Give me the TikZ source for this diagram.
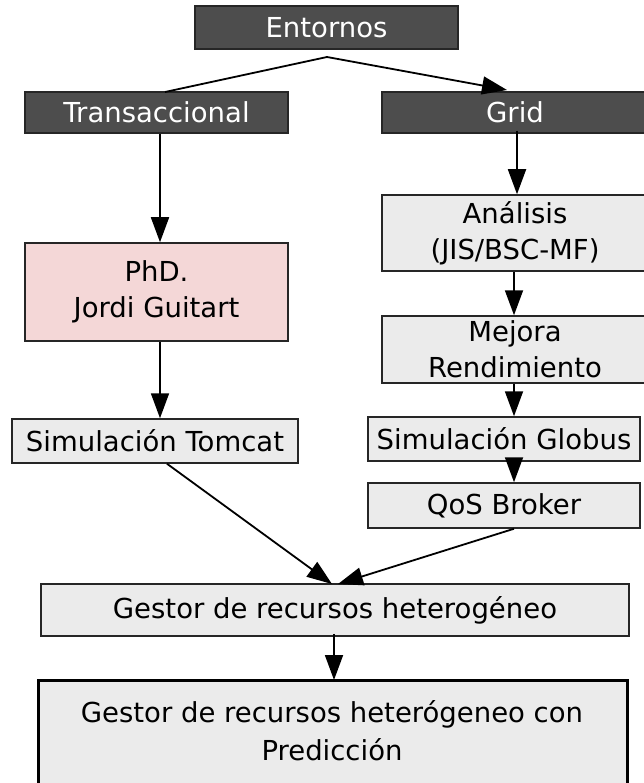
\documentclass[tikz,border=0pt]{standalone}
\usepackage{fontspec}
\setmainfont{DejaVu Sans}
\usetikzlibrary{arrows.meta}
\definecolor{darkbox}{HTML}{4D4D4D}
\definecolor{lightbox}{HTML}{EBEBEB}
\definecolor{pinkbox}{HTML}{F4D7D7}
\begin{document}
\begin{tikzpicture}[x=1pt,y=-1pt,
  base/.style={draw=black!85,line width=1.5pt,inner sep=0pt,align=center,font=\fontsize{27.5}{36}\selectfont},
  darkb/.style={base,fill=darkbox,text=white},
  lightb/.style={base,fill=lightbox},
  pinkb/.style={base,fill=pinkbox},
  conn/.style={line width=1.8pt},
  arr/.style={conn,-{Triangle[length=25pt,width=18pt]}}]
\useasboundingbox (0,0) rectangle (644,783);
\node[darkb,minimum width=263pt,minimum height=43pt] (ent) at (326.5,27.5) {Entornos};
\node[darkb,minimum width=263pt,minimum height=41pt] (tra) at (156.5,112.5) {Transaccional};
\node[darkb,minimum width=266pt,minimum height=41pt] (grid) at (515,112.5) {Grid};
\node[lightb,minimum width=266pt,minimum height=76pt] (ana) at (515,233) {Análisis\\(JIS/BSC-MF)};
\node[pinkb,minimum width=263pt,minimum height=98pt] (phd) at (156.5,292) {PhD.\\Jordi Guitart};
\node[lightb,minimum width=266pt,minimum height=67pt] (mej) at (515,349.5) {Mejora\\Rendimiento};
\node[lightb,minimum width=286pt,minimum height=44pt] (tom) at (155,441) {Simulación Tomcat};
\node[lightb,minimum width=272pt,minimum height=44pt] (glo) at (504,439) {Simulación Globus};
\node[lightb,minimum width=272pt,minimum height=45pt] (qos) at (504,505.5) {QoS Broker};
\node[lightb,minimum width=588pt,minimum height=52pt] (ges) at (335,610) {Gestor de recursos heterogéneo};
\draw[fill=lightbox,line width=3pt] (38,680) rectangle (627,810);
\node[font=\fontsize{27.5}{38}\selectfont,align=center] (pred) at (332,731) {Gestor de recursos heterógeneo con\\Predicción};
\coordinate (peak) at (327,57);
\draw[conn] (peak) -- (165,92);
\draw[arr] (peak) -- (507,90);
\draw[arr] (tra.south -| 160,0) -- (phd.north -| 160,0);
\draw[arr] ([yshift=3pt]grid.south -| 517,0) -- (ana.north -| 517,0);
\draw[arr] (ana.south -| 514,0) -- (mej.north -| 514,0);
\draw[arr] (phd.south -| 160,0) -- (tom.north -| 160,0);
\draw[arr] (mej.south -| 514,0) -- (glo.north -| 514,0);
\draw[arr] (glo.south -| 514,0) -- (qos.north -| 514,0);
\draw[arr] (tom.south -| 167,0) -- (332,584);
\draw[arr] (qos.south -| 514,0) -- (338,584);
\draw[arr] ([yshift=3pt]ges.south -| 334,0) -- (334,680);
\end{tikzpicture}
\end{document}
